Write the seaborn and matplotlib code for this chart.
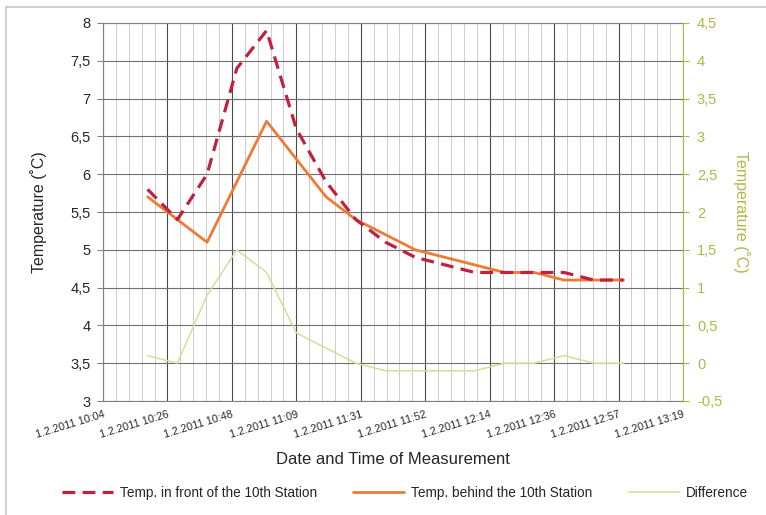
import matplotlib
matplotlib.use("Agg")
import matplotlib.pyplot as plt
import matplotlib.dates as mdates
from matplotlib.ticker import AutoMinorLocator, FuncFormatter
from matplotlib.lines import Line2D
import seaborn as sns
import pandas as pd
import numpy as np

# ---------------- data ----------------
times = ["10:19", "10:29", "10:39", "10:49", "10:59", "11:09", "11:19", "11:29",
         "11:39", "11:49", "11:59", "12:09", "12:19", "12:29", "12:39", "12:49", "12:59"]
front = [5.8, 5.4, 6.0, 7.4, 7.9, 6.6, 5.9, 5.4, 5.1, 4.9, 4.8, 4.7, 4.7, 4.7, 4.7, 4.6, 4.6]
behind = [5.7, 5.4, 5.1, 5.9, 6.7, 6.2, 5.7, 5.4, 5.2, 5.0, 4.9, 4.8, 4.7, 4.7, 4.6, 4.6, 4.6]
difference = [0.1, 0.0, 0.9, 1.5, 1.2, 0.4, 0.2, 0.0, -0.1, -0.1, -0.1, -0.1, 0.0, 0.0, 0.1, 0.0, 0.0]

x_tick_labels = ["1.2.2011 10:04", "1.2.2011 10:26", "1.2.2011 10:48", "1.2.2011 11:09",
                 "1.2.2011 11:31", "1.2.2011 11:52", "1.2.2011 12:14", "1.2.2011 12:36",
                 "1.2.2011 12:57", "1.2.2011 13:19"]
x_start = "2011-02-01 10:04"
x_end = "2011-02-01 13:19"
left_ticks = [3, 3.5, 4, 4.5, 5, 5.5, 6, 6.5, 7, 7.5, 8]
right_ticks = [-0.5, 0, 0.5, 1, 1.5, 2, 2.5, 3, 3.5, 4, 4.5]

label_front = "Temp. in front of the 10th Station"
label_behind = "Temp. behind the 10th Station"
label_diff = "Difference"

# ---------------- style ----------------
sns.set_style("white")
plt.rcParams['font.family'] = ['Liberation Sans', 'DejaVu Sans']

c_front = "#c2203f"
c_behind = "#ee7b35"
c_diff = "#d8dc98"
c_right = "#adb84a"
c_text = "#262626"

dt = pd.to_datetime(["2011-02-01 " + t for t in times])
df = pd.DataFrame({"time": dt, "front": front, "behind": behind, "diff": difference})

fig = plt.figure(figsize=(7.66, 5.15), dpi=100)
ax = fig.add_axes([103 / 766, 1 - 401 / 515, 580 / 766, 378 / 515])
ax2 = ax.twinx()

sns.lineplot(data=df, x="time", y="behind", ax=ax, color=c_behind, lw=2.0,
             label=label_behind, legend=False, zorder=3)
sns.lineplot(data=df, x="time", y="front", ax=ax, color=c_front, lw=2.3,
             linestyle=(0, (4.0, 2.3)), label=label_front, legend=False, zorder=4)
sns.lineplot(data=df, x="time", y="diff", ax=ax2, color=c_diff, lw=1.1,
             label=label_diff, legend=False, zorder=3)

x0 = mdates.date2num(pd.Timestamp(x_start))
x1 = mdates.date2num(pd.Timestamp(x_end))
ax.set_xlim(x0, x1)
ax.set_xticks(np.linspace(x0, x1, len(x_tick_labels)))
ax.set_xticklabels(x_tick_labels, rotation=17, ha='right', rotation_mode='anchor',
                   fontsize=7.8, color=c_text)
ax.xaxis.set_minor_locator(AutoMinorLocator(5))

comma = FuncFormatter(lambda v, p: ("%g" % v).replace(".", ","))

ax.set_ylim(3, 8)
ax.set_yticks(left_ticks)
ax.yaxis.set_major_formatter(comma)
ax2.set_ylim(-0.5, 4.5)
ax2.set_yticks(right_ticks)
ax2.yaxis.set_major_formatter(comma)

ax.grid(which='major', axis='x', color='#4a4a4a', lw=0.8)
ax.grid(which='minor', axis='x', color='#c4c4c4', lw=0.6)
ax.grid(which='major', axis='y', color='#707070', lw=0.8)
ax.set_axisbelow(True)

ax.tick_params(axis='x', which='both', length=0, pad=6)
ax.tick_params(axis='y', direction='out', length=4, color='#808080', width=0.8,
               labelsize=10.5, labelcolor=c_text, pad=5, left=True)
ax2.tick_params(axis='y', direction='out', length=4, color=c_right, width=0.8,
                labelsize=10.5, labelcolor=c_right, pad=6, right=True)

for s in ["top", "bottom", "left"]:
    ax.spines[s].set_color("#808080")
    ax.spines[s].set_linewidth(0.8)
ax.spines["right"].set_visible(False)
for s in ["top", "bottom", "left"]:
    ax2.spines[s].set_visible(False)
ax2.spines["right"].set_color(c_right)
ax2.spines["right"].set_linewidth(0.8)

ax.set_xlabel("Date and Time of Measurement", fontsize=12, color=c_text, labelpad=9)
ax.set_ylabel("Temperature (˚C)", fontsize=11.5, color=c_text, labelpad=17)
ax2.set_ylabel("Temperature (˚C)", fontsize=11.5, color=c_right, rotation=270, labelpad=20)

# legend
h1, l1 = ax.get_legend_handles_labels()
h2, l2 = ax2.get_legend_handles_labels()
handles = dict(zip(l1 + l2, h1 + h2))
order = [label_front, label_behind, label_diff]
fig.legend([handles[k] for k in order], order, loc='center',
           bbox_to_anchor=(405 / 766, 1 - 493 / 515), ncol=3, frameon=False,
           fontsize=9.8, handlelength=3.8, columnspacing=2.6, handletextpad=0.5)

# chart border
fig.add_artist(Line2D([6 / 766, 1.0], [1 - 7 / 515, 1 - 7 / 515], color="#c8c8c8", lw=1.2,
                      transform=fig.transFigure))
fig.add_artist(Line2D([6 / 766, 6 / 766], [0.0, 1 - 7 / 515], color="#c8c8c8", lw=1.2,
                      transform=fig.transFigure))

fig.savefig("out.png", dpi=100)
